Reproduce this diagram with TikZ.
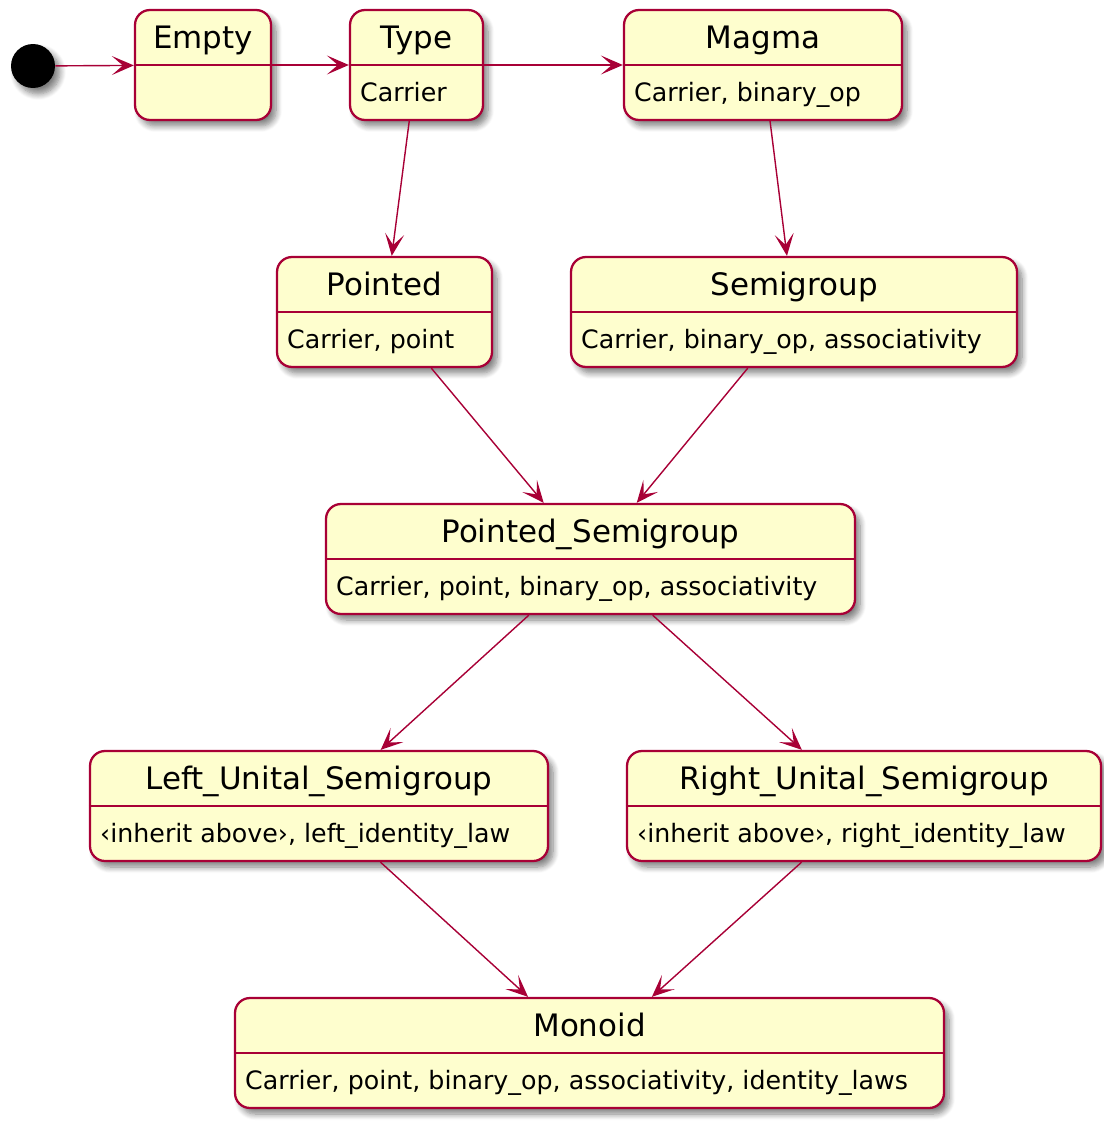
\documentclass[tikz,border=0pt]{standalone}
\usepackage{fontspec}
\setmainfont{DejaVu Sans}
\usepackage{xcolor}
\usepackage{tikz}
\usetikzlibrary{positioning, arrows.meta, shadows.blur, calc}

\definecolor{stfill}{HTML}{FEFECE}
\definecolor{stline}{HTML}{A80036}

\begin{document}
\begin{tikzpicture}[
  x=0.02cm, y=-0.02cm,
  shade/.style={blur shadow={shadow xshift=0.1cm, shadow yshift=-0.12cm,
    shadow blur radius=0.12cm, shadow opacity=50, shadow blur steps=8}},
  statebox/.style={rectangle, draw=stline, fill=stfill, line width=1.3pt,
    rounded corners=0.3cm, minimum height=2.2cm, inner sep=0pt, shade},
  ttl/.style={font=\fontsize{17.6}{21}\selectfont, anchor=base, inner sep=0pt},
  bdy/.style={font=\fontsize{14.4}{17}\selectfont, anchor=base west, inner sep=0pt},
  initdot/.style={circle, fill=black, minimum size=0.88cm, inner sep=0pt, shade},
  trans/.style={draw=stline, line width=0.8pt,
    -{Stealth[length=0.44cm, width=0.38cm, inset=0.22cm]}},
]
  % Canvas: 1 unit = 1 px of the 1104 x 1122 layout
  \useasboundingbox (0,0) rectangle (1104,1122);

  % Initial pseudo-state
  \node[initdot] (start) at (33,66) {};

  % States (name, centre x, centre y, width, title, attributes)
  \foreach \n/\x/\y/\w/\t/\b in {%
    empty/203/65/136/{Empty}/{},%
    type/416.5/65/133/{Type}/{Carrier},%
    magma/763/65/278/{Magma}/{Carrier, binary\_op},%
    pointed/384.5/312/215/{Pointed}/{Carrier, point},%
    semigroup/794/312/446/{Semigroup}/{Carrier, binary\_op, associativity},%
    psemi/590.5/559/529/{Pointed\_Semigroup}/{Carrier, point, binary\_op, associativity},%
    lunital/319/806/458/{Left\_Unital\_Semigroup}/{‹inherit above›, left\_identity\_law},%
    runital/864/806/474/{Right\_Unital\_Semigroup}/{‹inherit above›, right\_identity\_law},%
    monoid/589.5/1053/709/{Monoid}/{Carrier, point, binary\_op, associativity, identity\_laws}%
  }{
    \node[statebox, minimum width=\w*0.02cm] (\n) at (\x,\y) {};
    \draw[stline, line width=1.3pt] ($(\n.north west)+(0,56)$) -- ($(\n.north east)+(0,56)$);
    \path (\n.north) ++(0,40) node[ttl] (\n-t) {\t};
    \path (\n.north west) ++(11,93) node[bdy] (\n-b) {\b};
  }

  % Transitions
  \draw[trans] (start) -- (empty);
  \draw[trans] (empty) -- (type);
  \draw[trans] (type) -- (magma);
  \draw[trans] (type) -- (pointed);
  \draw[trans] (magma) -- (semigroup);
  \draw[trans] (pointed) -- (psemi);
  \draw[trans] (semigroup) -- (psemi);
  \draw[trans] (psemi) -- (lunital);
  \draw[trans] (psemi) -- (runital);
  \draw[trans] (lunital) -- (monoid);
  \draw[trans] (runital) -- (monoid);
\end{tikzpicture}
\end{document}
